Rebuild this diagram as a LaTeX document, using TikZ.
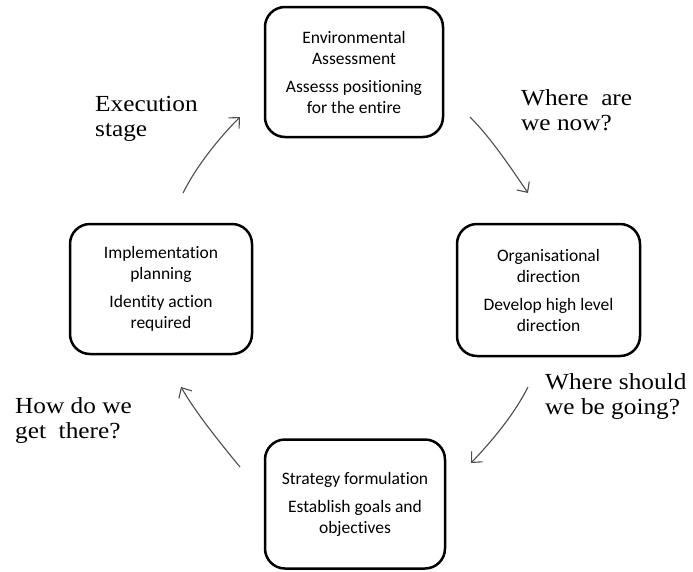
\documentclass[tikz,border=0pt]{standalone}
\usepackage{fontspec}
\setmainfont[FakeStretch=1.1]{Liberation Serif}
\newfontfamily\boxfont[Ligatures=NoCommon]{Carlito}
\usetikzlibrary{arrows.meta}
\begin{document}
\begin{tikzpicture}[x=1pt,y=-1pt,
  stagebox/.style={draw=black, line width=2.5pt, rounded corners=20pt, inner sep=0pt,
    font=\boxfont\fontsize{17.5}{21}\selectfont, align=center},
  cyclearrow/.style={draw=black!70, line width=1.1pt,
    -{Straight Barb[length=8pt,width=15pt,line width=1.1pt]}},
  qlabel/.style={anchor=north west, inner sep=0pt, align=left,
    font=\fontsize{23}{25.5}\selectfont}]
\useasboundingbox (0,0) rectangle (693,571);
\node[stagebox, minimum width=178pt, minimum height=130pt] (env) at (354,72)
  {Environmental\\Assessment\\[7pt]Assesss positioning\\for the entire};
\node[stagebox, minimum width=182pt, minimum height=130pt] (impl) at (161,289)
  {Implementation\\planning\\[7pt]Identity action\\required};
\node[stagebox, minimum width=183pt, minimum height=132pt] (org) at (548.5,290)
  {Organisational\\direction\\[7pt]Develop high level\\direction};
\node[stagebox, minimum width=180pt, minimum height=129pt] (strat) at (355,504)
  {Strategy formulation\\[7pt]Establish goals and\\objectives};

\coordinate (a1s) at (183,193); \coordinate (a1e) at (240,117);
\coordinate (a2s) at (470,117); \coordinate (a2e) at (528,193);
\coordinate (a3s) at (528,387); \coordinate (a3e) at (471,463);
\coordinate (a4s) at (240,467); \coordinate (a4e) at (181,387);
\draw[cyclearrow] (a1s) .. controls (196.5,166) and (219,138) .. (a1e);
\draw[cyclearrow] (a2s) .. controls (491,138) and (511,168) .. (a2e);
\draw[cyclearrow] (a3s) .. controls (514.5,414) and (492,441) .. (a3e);
\draw[cyclearrow] (a4s) .. controls (221,444) and (196,413) .. (a4e);

\node[qlabel] (lexec) at (95,96) {Execution\\stage};
\node[qlabel] (lnow) at (521,89) {Where~ are\\we now?};
\node[qlabel] (lgoing) at (545,373) {Where should\\we be going?};
\node[qlabel] (lthere) at (15,397) {How do we\\get~ there?};
\end{tikzpicture}
\end{document}
